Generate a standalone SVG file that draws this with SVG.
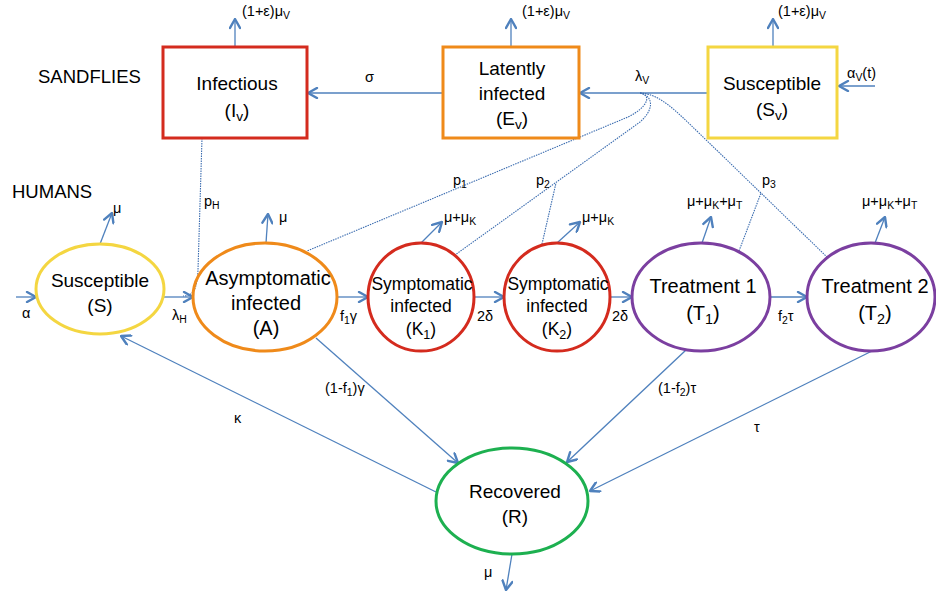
<svg xmlns="http://www.w3.org/2000/svg" width="936" height="595" viewBox="0 0 936 595">
<style>
text{font-family:"Liberation Sans",Arial,sans-serif;fill:#000}
.lbl{font-size:14.5px}
.nd{font-size:19px;text-anchor:middle}
.hd{font-size:18.5px}
.ar{fill:none;stroke:#4f81bd;stroke-width:1.3;marker-end:url(#ah)}
.dt{fill:none;stroke:#3c6db0;stroke-width:1.1;stroke-dasharray:1.5 1}
.sub{font-size:72%}
</style>
<defs>
<marker id="ah" viewBox="0 0 12 12" refX="11" refY="6" markerWidth="12" markerHeight="12" markerUnits="userSpaceOnUse" orient="auto">
<path d="M2,1 L11,6 L2,11" fill="none" stroke="#4f81bd" stroke-width="2.4" stroke-linecap="round" stroke-linejoin="round"/>
</marker>
</defs>
<rect width="936" height="595" fill="#fff"/>

<text class="hd" x="38" y="83">SANDFLIES</text>
<text class="hd" x="12" y="198">HUMANS</text>

<g id="connectors">
<line class="ar" x1="235" y1="47" x2="235" y2="19"/>
<line class="ar" x1="511" y1="47" x2="511" y2="19"/>
<line class="ar" x1="773" y1="47" x2="773" y2="19"/>
<line class="ar" x1="443" y1="93" x2="308" y2="93"/>
<line class="ar" x1="708" y1="93" x2="580" y2="93"/>
<line class="ar" x1="875" y1="86" x2="839" y2="86"/>
<path class="dt" d="M202,138 L198,270 C197,290 193,296 183,296"/>
<path class="dt" d="M640,93 C652,95 648,107 628,117 L307,251"/>
<path class="dt" d="M640,93 C654,96 654,110 640,122 L455,255"/>
<path class="dt" d="M542,244 L556,183"/>
<path class="dt" d="M640,93 C660,94 675,110 700,134 L828,258"/>
<path class="dt" d="M739,251 L761,193"/>
<line class="ar" x1="16" y1="297" x2="36" y2="297"/>
<line class="ar" x1="100" y1="244" x2="112" y2="213"/>
<line class="ar" x1="164" y1="297" x2="193" y2="297"/>
<line class="ar" x1="266" y1="243" x2="268" y2="214"/>
<line class="ar" x1="337" y1="297" x2="368" y2="297"/>
<line class="ar" x1="421" y1="243" x2="442" y2="222"/>
<line class="ar" x1="475" y1="297" x2="504" y2="297"/>
<line class="ar" x1="557" y1="243" x2="580" y2="222"/>
<line class="ar" x1="610" y1="297" x2="632" y2="297"/>
<line class="ar" x1="702" y1="243" x2="711" y2="217"/>
<line class="ar" x1="769" y1="297" x2="807" y2="297"/>
<line class="ar" x1="875" y1="243" x2="885" y2="217"/>
<line class="ar" x1="316" y1="338" x2="458" y2="463"/>
<line class="ar" x1="686" y1="350" x2="567" y2="462"/>
<line class="ar" x1="872" y1="351" x2="590" y2="491"/>
<line class="ar" x1="436" y1="492" x2="121" y2="336"/>
<line class="ar" x1="512" y1="554" x2="506" y2="590"/>
</g>

<g id="labels">
<text class="lbl" x="242" y="16">(1+ε)μ<tspan class="sub" dy="3">V</tspan></text>
<text class="lbl" x="522" y="16">(1+ε)μ<tspan class="sub" dy="3">V</tspan></text>
<text class="lbl" x="778" y="16">(1+ε)μ<tspan class="sub" dy="3">V</tspan></text>
<text class="lbl" x="365" y="82">σ</text>
<text class="lbl" x="635" y="81">λ<tspan class="sub" dy="3">V</tspan></text>
<text class="lbl" x="847" y="78">α<tspan class="sub" dy="3">V</tspan><tspan dy="-3">(t)</tspan></text>
<text class="lbl" x="113" y="213">μ</text>
<text class="lbl" x="279" y="222">μ</text>
<text class="lbl" x="204" y="206">p<tspan class="sub" dy="3">H</tspan></text>
<text class="lbl" x="172" y="320">λ<tspan class="sub" dy="3">H</tspan></text>
<text class="lbl" x="22" y="318">α</text>
<text class="lbl" x="340" y="321">f<tspan class="sub" dy="3">1</tspan><tspan dy="-3">γ</tspan></text>
<text class="lbl" x="444" y="222">μ+μ<tspan class="sub" dy="3">K</tspan></text>
<text class="lbl" x="477" y="321">2δ</text>
<text class="lbl" x="582" y="222">μ+μ<tspan class="sub" dy="3">K</tspan></text>
<text class="lbl" x="612" y="321">2δ</text>
<text class="lbl" x="687" y="206">μ+μ<tspan class="sub" dy="3">K</tspan><tspan dy="-3">+μ</tspan><tspan class="sub" dy="3">T</tspan></text>
<text class="lbl" x="778" y="321">f<tspan class="sub" dy="3">2</tspan><tspan dy="-3">τ</tspan></text>
<text class="lbl" x="862" y="206">μ+μ<tspan class="sub" dy="3">K</tspan><tspan dy="-3">+μ</tspan><tspan class="sub" dy="3">T</tspan></text>
<text class="lbl" x="453" y="185">p<tspan class="sub" dy="3">1</tspan></text>
<text class="lbl" x="536" y="185">p<tspan class="sub" dy="3">2</tspan></text>
<text class="lbl" x="762" y="185">p<tspan class="sub" dy="3">3</tspan></text>
<text class="lbl" x="325" y="393">(1-f<tspan class="sub" dy="3">1</tspan><tspan dy="-3">)γ</tspan></text>
<text class="lbl" x="658" y="393">(1-f<tspan class="sub" dy="3">2</tspan><tspan dy="-3">)τ</tspan></text>
<text class="lbl" x="234" y="423">κ</text>
<text class="lbl" x="754" y="432">τ</text>
<text class="lbl" x="484" y="577">μ</text>
</g>

<g id="Iv">
<rect x="163" y="47" width="144" height="91" fill="#fff" stroke="#d42b1e" stroke-width="3"/>
<text class="nd" x="237" y="90">Infectious</text>
<text class="nd" x="237" y="117">(I<tspan class="sub" dy="4">v</tspan><tspan dy="-4">)</tspan></text>
</g>
<g id="Ev">
<rect x="443" y="47" width="136" height="91" fill="#fff" stroke="#ef8a1a" stroke-width="3"/>
<text class="nd" x="512" y="75">Latently</text>
<text class="nd" x="512" y="100">infected</text>
<text class="nd" x="512" y="125">(E<tspan class="sub" dy="4">v</tspan><tspan dy="-4">)</tspan></text>
</g>
<g id="Sv">
<rect x="708" y="47" width="129" height="91" fill="#fff" stroke="#f4d641" stroke-width="3"/>
<text class="nd" x="772" y="90">Susceptible</text>
<text class="nd" x="772" y="116">(S<tspan class="sub" dy="4">v</tspan><tspan dy="-4">)</tspan></text>
</g>
<g id="S">
<ellipse cx="100" cy="289" rx="64" ry="45" fill="none" stroke="#f4d641" stroke-width="3"/>
<text class="nd" x="100" y="287">Susceptible</text>
<text class="nd" x="100" y="312">(S)</text>
</g>
<g id="A">
<ellipse cx="265" cy="297" rx="72" ry="54" fill="none" stroke="#ef8a1a" stroke-width="3"/>
<text class="nd" x="268" y="285" style="font-size:20px">Asymptomatic</text>
<text class="nd" x="266" y="310" style="font-size:20px">infected</text>
<text class="nd" x="266" y="335" style="font-size:20px">(A)</text>
</g>
<g id="K1">
<ellipse cx="421" cy="297" rx="53" ry="54" fill="none" stroke="#d42b1e" stroke-width="3"/>
<text class="nd" x="422" y="290" style="font-size:17.5px">Symptomatic</text>
<text class="nd" x="421" y="312" style="font-size:17.5px">infected</text>
<text class="nd" x="421" y="335" style="font-size:17.5px">(K<tspan class="sub" dy="4">1</tspan><tspan dy="-4">)</tspan></text>
</g>
<g id="K2">
<ellipse cx="557" cy="297" rx="53" ry="54" fill="none" stroke="#d42b1e" stroke-width="3"/>
<text class="nd" x="558" y="290" style="font-size:17.5px">Symptomatic</text>
<text class="nd" x="557" y="312" style="font-size:17.5px">infected</text>
<text class="nd" x="557" y="335" style="font-size:17.5px">(K<tspan class="sub" dy="4">2</tspan><tspan dy="-4">)</tspan></text>
</g>
<g id="T1">
<ellipse cx="701" cy="297" rx="69" ry="54" fill="none" stroke="#7b3fa0" stroke-width="3"/>
<text class="nd" x="703" y="293" style="font-size:20px">Treatment 1</text>
<text class="nd" x="703" y="320" style="font-size:20px">(T<tspan class="sub" dy="4">1</tspan><tspan dy="-4">)</tspan></text>
</g>
<g id="T2">
<ellipse cx="871" cy="297" rx="64" ry="54" fill="none" stroke="#7b3fa0" stroke-width="3"/>
<text class="nd" x="875" y="293" style="font-size:20px">Treatment 2</text>
<text class="nd" x="875" y="320" style="font-size:20px">(T<tspan class="sub" dy="4">2</tspan><tspan dy="-4">)</tspan></text>
</g>
<g id="R">
<ellipse cx="512" cy="501" rx="76" ry="53" fill="none" stroke="#1db050" stroke-width="3"/>
<text class="nd" x="515" y="498">Recovered</text>
<text class="nd" x="515" y="523">(R)</text>
</g>
</svg>
